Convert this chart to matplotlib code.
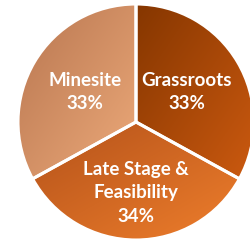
import numpy as np
import matplotlib
matplotlib.use("Agg")
import matplotlib.pyplot as plt

labels = ["Grassroots", "Late Stage &\nFeasibility", "Minesite"]
shares = [33, 34, 33]
# gradient colours per slice: (top-left, bottom-right)
grad = [("#853600", "#CC5A10"), ("#B4521A", "#EE7E2C"), ("#B87650", "#EDAA7A")]
label_dist = [0.5, 0.6, 0.5]

plt.rcParams["font.family"] = ["Lato", "DejaVu Sans"]

fig = plt.figure(figsize=(2.51, 2.40), dpi=100)
ax = fig.add_axes([0, 0, 1, 1])

cx, cy, r = 136, 118, 118
wedges, _ = ax.pie(shares, startangle=90, counterclock=False,
                   center=(cx, cy), radius=r, frame=True,
                   wedgeprops=dict(edgecolor="white", linewidth=2.2))
ax.set_aspect("equal")
ax.set_xlim(0, 251)
ax.set_ylim(0, 240)
ax.axis("off")

def hex2rgb(h):
    return np.array(matplotlib.colors.to_rgb(h))

for w, (c0, c1) in zip(wedges, grad):
    w.set_facecolor("none")
    bb = w.get_path().get_extents()
    n = 200
    xx, yy = np.meshgrid(np.linspace(0, 1, n), np.linspace(0, 1, n))
    t = (xx + yy) / 2.0
    img = hex2rgb(c0)[None, None, :] * (1 - t[..., None]) + hex2rgb(c1)[None, None, :] * t[..., None]
    im = ax.imshow(img, extent=[bb.x0, bb.x1, bb.y0, bb.y1], origin="upper",
                   interpolation="bilinear", zorder=0.5)
    im.set_clip_path(w)
    w.set_zorder(1)

total = sum(shares)
start = 90.0
for lab, s, d in zip(labels, shares, label_dist):
    sweep = 360.0 * s / total
    mid = np.deg2rad(start - sweep / 2)
    start -= sweep
    x = cx + d * r * np.cos(mid)
    y = cy + d * r * np.sin(mid)
    ax.text(x, y, f"{lab}\n{s}%", ha="center", va="center", color="white",
            fontsize=13.5, fontweight="bold", linespacing=1.45, zorder=3)

ax.set_xlim(0, 251)
ax.set_ylim(0, 240)
fig.savefig("out.png", dpi=100)
